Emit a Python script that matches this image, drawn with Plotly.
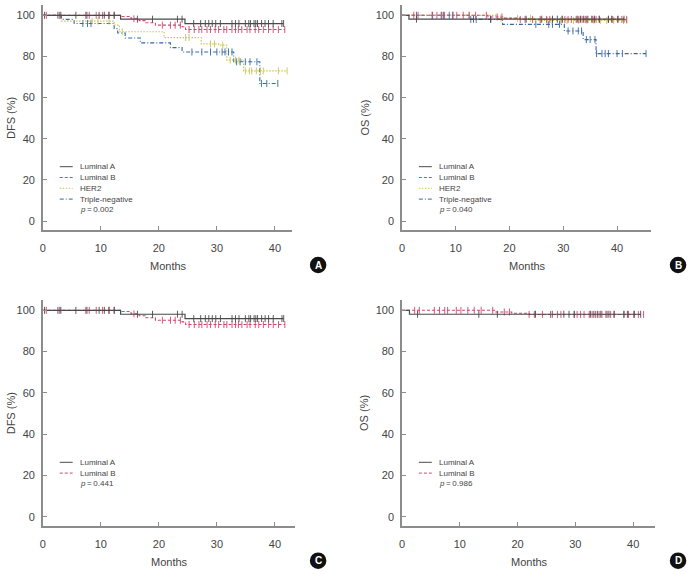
import plotly.graph_objects as go

W, H = 688, 574

# ---------------- data (months, survival %) ----------------
# DFS step curves: event times and survival after each event
lumA_dfs_t = [0, 13.4, 24.5]
lumA_dfs_s = [100, 98.1, 96.0]
lumB_dfs_t = [0, 13.5, 15.2, 16.6, 17.6, 19.4, 24.0, 24.6]
lumB_dfs_s = [100, 99.4, 98.3, 97.4, 96.4, 95.2, 94.4, 93.1]
her2_dfs_t = [0, 3.2, 12.3, 13.2, 20.9, 27.3, 30.3, 31.7, 34.6]
her2_dfs_s = [100, 97.2, 95.2, 92.0, 89.2, 86.1, 85.5, 78.2, 73.0]
tn_dfs_t = [0, 3.2, 5.4, 12.3, 12.9, 14.2, 16.8, 22.0, 24.0, 32.9, 37.4]
tn_dfs_s = [100, 98.0, 96.0, 93.5, 91.4, 89.0, 86.6, 84.3, 82.2, 77.4, 66.9]

lumA_dfs_c = [0.3, 2.6, 3.1, 5.7, 7.6, 9.7, 10.6, 11.4, 12.3, 16.3, 18.9, 23.2, 24.0,
              26.0, 27.2, 28.0, 28.6, 29.2, 29.8, 30.6, 32.6, 33.2, 33.8, 34.9, 35.5,
              35.8, 36.4, 36.7, 37.0, 37.7, 38.3, 38.9, 39.7, 41.2, 41.5]
lumB_dfs_c = [0.6, 2.9, 7.4, 8.0, 9.2, 10.3, 11.4, 12.3, 15.7, 20.6, 22.0, 22.8, 23.7,
              25.2, 26.1, 26.9, 27.4, 28.3, 28.9, 29.7, 30.3, 31.2, 31.7, 32.6, 33.2,
              33.7, 34.3, 35.2, 35.7, 36.6, 37.2, 38.0, 38.9, 39.7, 40.6, 41.7]
her2_dfs_c = [8.5, 9.5, 11.4, 13.7, 24.6, 25.2, 28.9, 29.6, 31.0, 32.3, 33.2, 33.8,
              34.9, 35.6, 36.0, 36.8, 37.5, 38.0, 40.6, 42.1]
tn_dfs_c = [6.9, 7.7, 8.3, 25.7, 27.4, 28.9, 30.0, 30.9, 31.4, 32.0, 32.6, 33.4, 34.0,
            34.9, 35.7, 36.9, 37.7, 38.6, 40.5]

# OS step curves
lumA_os_t = [0, 1.3]
lumA_os_s = [100, 98.1]
lumB_os_t = [0, 16.0, 19.0, 22.0]
lumB_os_s = [100, 99.2, 98.6, 98.0]
her2_os_t = [0, 17.8, 24.6]
her2_os_s = [100, 98.5, 97.5]
tn_os_t = [0, 12.5, 18.7, 30.2, 33.7, 36.1]
tn_os_s = [100, 98.0, 95.6, 92.4, 88.2, 81.4]

lumA_os_c = [2.7, 13.3, 16.5, 23.1, 26.0, 28.0, 28.9, 29.8, 32.6, 33.2, 33.8, 34.4,
             35.3, 35.8, 36.7, 38.4, 39.0, 40.2, 41.3]
lumB_os_c = [2.2, 3.0, 5.6, 6.5, 7.4, 7.9, 9.4, 10.2, 11.4, 12.5, 13.7, 15.7, 17.7,
             18.6, 22.0, 22.9, 24.3, 25.7, 26.9, 27.5, 29.8, 30.3, 30.9, 31.5, 32.4,
             32.9, 33.5, 34.1, 34.6, 35.5, 36.1, 36.7, 38.4, 39.2, 40.1, 40.9, 41.8]
her2_os_c = [12.5, 18.4, 21.5, 23.9, 25.8, 27.0, 27.9, 29.5, 30.7, 31.9, 32.9, 34.4,
             35.7, 36.9, 38.1, 39.4, 41.2, 41.8]
tn_os_c = [2.7, 5.7, 7.3, 7.7, 8.8, 9.5, 12.8, 13.8, 16.5, 24.9, 27.3, 28.0, 29.3,
           30.9, 31.8, 32.8, 33.4, 34.3, 35.0, 35.9, 36.2, 37.2, 37.8, 38.4, 40.0,
           41.0, 45.4]

group_names = ["Luminal A", "Luminal B", "HER2", "Triple-negative"]
p_values = ["0.002", "0.040", "0.441", "0.986"]
panel_letters = ["A", "B", "C", "D"]
y_titles = ["DFS (%)", "OS (%)", "DFS (%)", "OS (%)"]
x_ticks = [0, 10, 20, 30, 40]
y_ticks = [0, 20, 40, 60, 80, 100]

# ---------------- styles ----------------
FONT = "Liberation Sans, Arial, sans-serif"
AXC = "#8c8c8c"
TXT = "#444444"
styles = {
    "Luminal A": dict(color="#4a4a4a", dash="solid", width=1.2),
    "Luminal B": dict(color="#d2456c", dash="3px,2px", width=1.1),
    "HER2": dict(color="#c8c656", dash="1.5px,1.5px", width=1.2),
    "Triple-negative": dict(color="#3567aa", dash="4px,2px,1px,2px", width=1.1),
}

curves = {
    "dfs": {
        "Luminal A": (lumA_dfs_t, lumA_dfs_s, lumA_dfs_c),
        "Luminal B": (lumB_dfs_t, lumB_dfs_s, lumB_dfs_c),
        "HER2": (her2_dfs_t, her2_dfs_s, her2_dfs_c),
        "Triple-negative": (tn_dfs_t, tn_dfs_s, tn_dfs_c),
    },
    "os": {
        "Luminal A": (lumA_os_t, lumA_os_s, lumA_os_c),
        "Luminal B": (lumB_os_t, lumB_os_s, lumB_os_c),
        "HER2": (her2_os_t, her2_os_s, her2_os_c),
        "Triple-negative": (tn_os_t, tn_os_s, tn_os_c),
    },
}

# panel geometry in pixels: (x0, x1, ytop, ybottom)
panels = [
    dict(box=(40, 290, 5, 230), xmax=42.9, kind="dfs", groups=group_names),
    dict(box=(400.7, 651, 5, 230), xmax=46.35, kind="os", groups=group_names),
    dict(box=(40, 293, 300, 525.7), xmax=43.4, kind="dfs", groups=group_names[:2]),
    dict(box=(400.7, 655, 300, 525.7), xmax=43.8, kind="os", groups=group_names[:2]),
]
Y_RANGE = [-4.3, 105]


def px(x):
    return x / W


def py(y):
    return 1 - y / H


def step_value(times, surv, t):
    v = surv[0]
    for ti, si in zip(times, surv):
        if t >= ti:
            v = si
    return v


fig = go.Figure()
shapes = []
annotations = []

for i, pan in enumerate(panels):
    n = "" if i == 0 else str(i + 1)
    xa, ya = "x" + n, "y" + n
    x0, x1, yt, yb = pan["box"]
    order = list(reversed(pan["groups"]))
    for g in order:
        t, s, c = curves[pan["kind"]][g]
        st = styles[g]
        end = max(c)
        fig.add_trace(go.Scatter(
            x=list(t) + [end], y=list(s) + [s[-1]], mode="lines",
            line=dict(color=st["color"], dash=st["dash"], width=st["width"], shape="hv"),
            xaxis=xa, yaxis=ya, showlegend=False, hoverinfo="skip"))
        fig.add_trace(go.Scatter(
            x=c, y=[step_value(t, s, ci) for ci in c], mode="markers",
            marker=dict(symbol="line-ns", size=5,
                        line=dict(color=st["color"], width=0.9)),
            xaxis=xa, yaxis=ya, showlegend=False, hoverinfo="skip"))

    axis_common = dict(showline=True, linecolor=AXC, linewidth=1.5, ticks="inside",
                       ticklen=4, tickcolor=AXC, tickwidth=1, showgrid=False,
                       zeroline=False, tickfont=dict(family=FONT, size=11, color=TXT))
    fig.update_layout(**{
        "xaxis" + n: dict(domain=[px(x0), px(x1)], range=[0, pan["xmax"]],
                          tickvals=x_ticks, anchor=ya, ticklabelstandoff=7,
                          **axis_common),
        "yaxis" + n: dict(domain=[py(yb), py(yt)], range=Y_RANGE,
                          tickvals=y_ticks, anchor=xa, ticklabelstandoff=4,
                          **axis_common),
    })

    # axis titles
    annotations.append(dict(x=px((x0 + x1) / 2 + 1), y=py(yb + 36), xref="paper", yref="paper",
                            text="Months", showarrow=False, xanchor="center", yanchor="middle",
                            font=dict(family=FONT, size=11, color=TXT)))
    ytx = max(x0 - 38, 7.5)
    annotations.append(dict(x=px(ytx), y=py((yt + yb) / 2), xref="paper", yref="paper",
                            text=y_titles[i], showarrow=False, textangle=-90,
                            xanchor="center", yanchor="middle",
                            font=dict(family=FONT, size=11, color=TXT)))

    # legend (manual)
    ly0 = yt + 161.7 if len(pan["groups"]) == 4 else yt + 162.3
    for k, g in enumerate(pan["groups"]):
        st = styles[g]
        yy = ly0 + k * 10.8
        shapes.append(dict(type="line", xref="paper", yref="paper",
                           x0=px(x0 + 17), x1=px(x0 + 30), y0=py(yy), y1=py(yy),
                           line=dict(color=st["color"], width=1, dash=st["dash"])))
        annotations.append(dict(x=px(x0 + 35), y=py(yy), xref="paper", yref="paper",
                                text=g, showarrow=False, xanchor="left", yanchor="middle",
                                font=dict(family=FONT, size=8, color=TXT)))
    yy = ly0 + len(pan["groups"]) * 10.8
    annotations.append(dict(x=px(x0 + 35), y=py(yy), xref="paper", yref="paper",
                            text="<i>p</i>\u2009=\u2009" + p_values[i], showarrow=False,
                            xanchor="left", yanchor="middle",
                            font=dict(family=FONT, size=8, color=TXT)))

    # panel letter badge
    cx = 316.5 if i % 2 == 0 else 678
    cy = yb + 35
    r = 8.3
    shapes.append(dict(type="circle", xref="paper", yref="paper",
                       x0=px(cx - r), x1=px(cx + r), y0=py(cy + r), y1=py(cy - r),
                       fillcolor="#111111", line=dict(width=0)))
    annotations.append(dict(x=px(cx), y=py(cy), xref="paper", yref="paper",
                            text="<b>" + panel_letters[i] + "</b>", showarrow=False,
                            xanchor="center", yanchor="middle",
                            font=dict(family=FONT, size=10, color="white")))

fig.update_layout(width=W, height=H, margin=dict(l=0, r=0, t=0, b=0),
                  paper_bgcolor="white", plot_bgcolor="white",
                  shapes=shapes, annotations=annotations, showlegend=False,
                  font=dict(family=FONT, color=TXT))

fig.write_html("out.html")
